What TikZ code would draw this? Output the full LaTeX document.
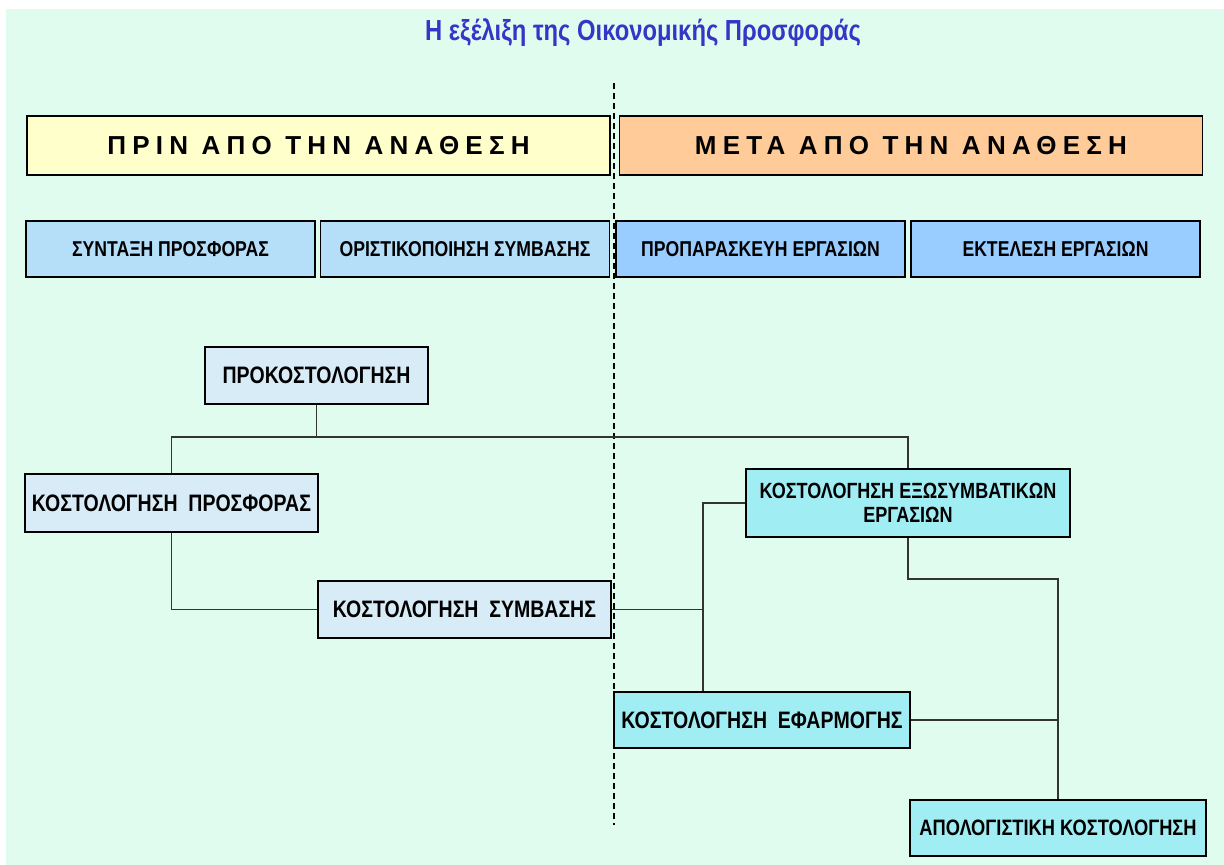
\documentclass[tikz,border=0pt]{standalone}
\usepackage{fontspec}
\setmainfont{Liberation Sans}
\newfontfamily\narrowfont[FakeStretch=0.82]{Liberation Sans}
\newfontfamily\spacedfont[LetterSpace=24]{Liberation Sans}
\definecolor{mint}{HTML}{E0FCEE}
\definecolor{titleblue}{HTML}{3535C8}
\definecolor{prinyellow}{HTML}{FFFFCC}
\definecolor{metaorange}{HTML}{FFCC99}
\definecolor{paleblue}{HTML}{B5DEF8}
\definecolor{skyblue}{HTML}{99CCFF}
\definecolor{iceblue}{HTML}{D8ECF8}
\definecolor{aqua}{HTML}{A0EEF4}
\tikzset{
  phase/.style={draw=black, line width=1.5pt, minimum width=583pt, minimum height=59pt,
    font=\spacedfont\bfseries\fontsize{26}{30}\selectfont},
  stage/.style={draw=black, line width=1.5pt, minimum width=289pt, minimum height=56pt,
    fill=paleblue, font=\narrowfont\bfseries\fontsize{21.5}{24}\selectfont},
  cost/.style={draw=black, line width=1.5pt, minimum height=57pt, inner sep=0pt,
    font=\narrowfont\bfseries\fontsize{23.8}{26}\selectfont},
  link/.style={draw=black!80, line width=1.6pt}
}
\begin{document}
\begin{tikzpicture}[x=1pt,y=-1pt]
  \useasboundingbox (0,0) rectangle (1224,865);
  \fill[white] (0,0) rectangle (1224,865);
  \fill[mint] (6,9) rectangle (1224,865);
  \node[font=\narrowfont\bfseries\fontsize{29}{34}\selectfont, text=titleblue] (title) at (643,33) {Η εξέλιξη της Οικονομικής Προσφοράς};
  % the two phases
  \node[phase, fill=prinyellow] (prin) at (318.5,145.5) {ΠΡΙΝ ΑΠΟ ΤΗΝ ΑΝΑΘΕΣΗ};
  \node[phase, fill=metaorange] (meta) at (911,145.5) {ΜΕΤΑ ΑΠΟ ΤΗΝ ΑΝΑΘΕΣΗ};
  \node[stage] (syntaxi) at (170.5,249) {ΣΥΝΤΑΞΗ ΠΡΟΣΦΟΡΑΣ};
  \node[stage] (oristiko) at (465,249) {ΟΡΙΣΤΙΚΟΠΟΙΗΣΗ ΣΥΜΒΑΣΗΣ};
  \node[stage, fill=skyblue] (proparask) at (760.5,249) {ΠΡΟΠΑΡΑΣΚΕΥΗ ΕΡΓΑΣΙΩΝ};
  \node[stage, fill=skyblue] (ektelesi) at (1055.5,249) {ΕΚΤΕΛΕΣΗ ΕΡΓΑΣΙΩΝ};
  \draw[black, line width=1.2pt, dash pattern=on 6pt off 4pt] (614,83) -- (614,825);
  % costing steps
  \node[cost, fill=iceblue, minimum width=223pt] (prokost) at (316.5,375.5) {ΠΡΟΚΟΣΤΟΛΟΓΗΣΗ};
  \node[cost, fill=iceblue, minimum width=293pt, minimum height=58pt] (kprosf) at (171.5,503) {ΚΟΣΤΟΛΟΓΗΣΗ\ \ ΠΡΟΣΦΟΡΑΣ};
  \node[cost, fill=iceblue, minimum width=293pt] (ksymv) at (464.5,609.5) {ΚΟΣΤΟΛΟΓΗΣΗ\ \ ΣΥΜΒΑΣΗΣ};
  \node[cost, fill=aqua, minimum width=324pt, minimum height=68pt, align=center, font=\narrowfont\bfseries\fontsize{22}{24}\selectfont] (kexo) at (908,503) {ΚΟΣΤΟΛΟΓΗΣΗ ΕΞΩΣΥΜΒΑΤΙΚΩΝ\\ΕΡΓΑΣΙΩΝ};
  \node[cost, fill=aqua, minimum width=296pt, minimum height=56pt] (kefarm) at (762,720) {ΚΟΣΤΟΛΟΓΗΣΗ\ \ ΕΦΑΡΜΟΓΗΣ};
  \node[cost, fill=aqua, minimum width=296pt, minimum height=56pt, font=\narrowfont\bfseries\fontsize{22.3}{24}\selectfont] (kapol) at (1058,828) {ΑΠΟΛΟΓΙΣΤΙΚΗ ΚΟΣΤΟΛΟΓΗΣΗ};
  \coordinate (j1) at (316.5,437);
  \coordinate (j2) at (703,609.5);
  \coordinate (j3) at (1058,579);
  \draw[link] (prokost.south) -- (j1);
  \draw[link] (kprosf.north) |- (j1) -| (kexo.north);
  \draw[link] (kprosf.south) |- (ksymv.west);
  \draw[link] (ksymv.east) -- (j2);
  \draw[link] (kexo.west) -| (j2) -- (j2 |- kefarm.north);
  \draw[link] (kexo.south) |- (j3) -- (kapol.north);
  \draw[link] (kefarm.east) -- (kefarm.east -| j3);
\end{tikzpicture}
\end{document}
